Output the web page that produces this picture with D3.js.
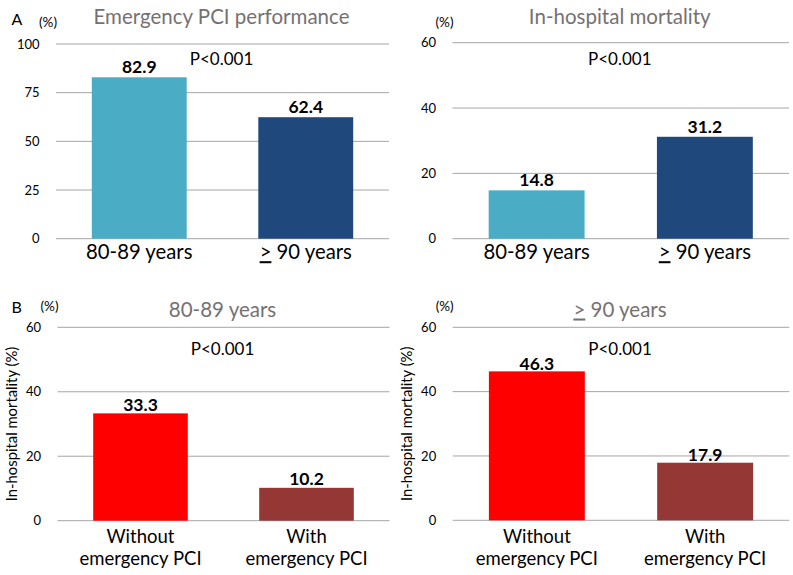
<!DOCTYPE html>
<html>
<head>
<meta charset="utf-8">
<script src="https://cdn.jsdelivr.net/npm/d3@7"></script>
<style>
  html, body { margin: 0; padding: 0; background: #fff; }
  svg { display: block; font-family: Lato, "Open Sans", sans-serif; }
</style>
</head>
<body>
<svg id="chart" width="793" height="575"></svg>
<script>
// ---------- data ----------
const titles = ["Emergency PCI performance", "In-hospital mortality", "80-89 years", "≥ 90 years"];
const ageGroups = ["80-89 years", "≥ 90 years"];
const pciGroups = [["Without", "emergency PCI"], ["With", "emergency PCI"]];
const pciPerformance = [82.9, 62.4];
const mortalityByAge = [14.8, 31.2];
const mortality80to89 = [33.3, 10.2];
const mortality90plus = [46.3, 17.9];
const ticksPerformance = [0, 25, 50, 75, 100];
const ticksMortality = [0, 20, 40, 60];
const pValues = ["P<0.001", "P<0.001", "P<0.001", "P<0.001"];
const ageColors = ["#4BACC6", "#1F497D"];
const pciColors = ["#FF0000", "#953735"];

// ---------- layout ----------
const svg = d3.select("#chart");
const panels = [
  { letter: "A", title: titles[0], cats: ageGroups, vals: pciPerformance, ticks: ticksPerformance, max: 100,
    colors: ageColors, x0: 56, x1: 389, yTop: 44, yBot: 238.7, titleY: 23.5, pY: 65, unitY: 27,
    letterX: 11.5, letterY: 24.5, ylab: false, valOff: 4.5 },
  { letter: "", title: titles[1], cats: ageGroups, vals: mortalityByAge, ticks: ticksMortality, max: 60,
    colors: ageColors, x0: 452.5, x1: 789, yTop: 42.7, yBot: 238.7, titleY: 23.5, pY: 65, unitY: 27,
    ylab: false, valOff: 4 },
  { letter: "B", title: titles[2], cats: pciGroups, vals: mortality80to89, ticks: ticksMortality, max: 60,
    colors: pciColors, x0: 57.5, x1: 389.5, yTop: 327.3, yBot: 520.7, titleY: 316.5, pY: 355, unitY: 310.5,
    letterX: 11.5, letterY: 313, ylab: true, valOff: 2.5 },
  { letter: "", title: titles[3], cats: pciGroups, vals: mortality90plus, ticks: ticksMortality, max: 60,
    colors: pciColors, x0: 452.7, x1: 789.3, yTop: 327.3, yBot: 520.3, titleY: 316.5, pY: 355, unitY: 310.5,
    ylab: true, valOff: 1.8 }
];

function drawGeText(sel, str) {
  // renders "≥" as an underlined ">" like the original figure
  if (str.startsWith("≥")) {
    sel.append("tspan").attr("text-decoration", "underline").text(">");
    sel.append("tspan").text(str.slice(1));
  } else {
    sel.text(str);
  }
}

panels.forEach((p, i) => {
  const g = svg.append("g");
  const x = d3.scaleBand().domain(d3.range(p.vals.length)).range([p.x0, p.x1]).paddingInner(0.43).paddingOuter(0.215);
  const y = d3.scaleLinear().domain([0, p.max]).range([p.yBot, p.yTop]);
  const cx = (p.x0 + p.x1) / 2;

  // gridlines
  g.append("g").selectAll("line").data(p.ticks).join("line")
    .attr("x1", p.x0).attr("x2", p.x1)
    .attr("y1", d => y(d)).attr("y2", d => y(d))
    .attr("stroke", "#A6A6A6").attr("stroke-width", 1);

  // y axis tick labels
  const yAxis = d3.axisLeft(y).tickValues(p.ticks).tickSize(0).tickPadding(0).tickFormat(d3.format("d"));
  const ya = g.append("g").attr("transform", `translate(${p.x0 - 16.5},0)`).call(yAxis);
  ya.select(".domain").remove();
  ya.selectAll("text").attr("font-size", 13).attr("fill", "#000").attr("font-family", "Lato, sans-serif");

  // bars
  g.append("g").selectAll("rect").data(p.vals).join("rect")
    .attr("x", (d, j) => x(j)).attr("width", x.bandwidth())
    .attr("y", d => y(d)).attr("height", d => y(0) - y(d))
    .attr("fill", (d, j) => p.colors[j]);

  // value labels
  g.append("g").selectAll("text").data(p.vals).join("text")
    .attr("x", (d, j) => x(j) + x.bandwidth() / 2)
    .attr("y", d => y(d) - p.valOff)
    .attr("text-anchor", "middle").attr("font-weight", "bold").attr("font-size", 17.5)
    .text(d => d3.format(".1f")(d));

  // category labels
  p.cats.forEach((c, j) => {
    const t = g.append("text").attr("text-anchor", "middle")
      .attr("x", x(j) + x.bandwidth() / 2);
    if (Array.isArray(c)) {
      t.attr("font-size", 18.5);
      c.forEach((line, k) => {
        t.append("tspan").attr("x", x(j) + x.bandwidth() / 2).attr("y", p.yBot + 22.5 + k * 22).text(line);
      });
    } else {
      t.attr("y", p.yBot + 20.5).attr("font-size", 20.3);
      drawGeText(t, c);
    }
  });

  // title
  const tt = g.append("text").attr("x", cx - 1).attr("y", p.titleY)
    .attr("text-anchor", "middle").attr("font-size", 20.5).attr("fill", "#767171");
  drawGeText(tt, p.title);

  // P value
  g.append("text").attr("x", cx - 1).attr("y", p.pY).attr("text-anchor", "middle")
    .attr("font-size", 17).text(pValues[i]);

  // (%) unit
  g.append("text").attr("x", p.x0 - 8).attr("y", p.unitY).attr("text-anchor", "middle")
    .attr("font-size", 13.5).text("(%)");

  // panel letter
  if (p.letter) {
    g.append("text").attr("x", p.letterX).attr("y", p.letterY).attr("font-size", 16).text(p.letter);
  }

  // y axis title
  if (p.ylab) {
    const ly = (p.yTop + p.yBot) / 2;
    g.append("text").attr("transform", `translate(${p.x0 - 40.5},${ly}) rotate(-90)`)
      .attr("text-anchor", "middle").attr("font-size", 14.8).text("In-hospital mortality (%)");
  }
});
</script>
</body>
</html>
